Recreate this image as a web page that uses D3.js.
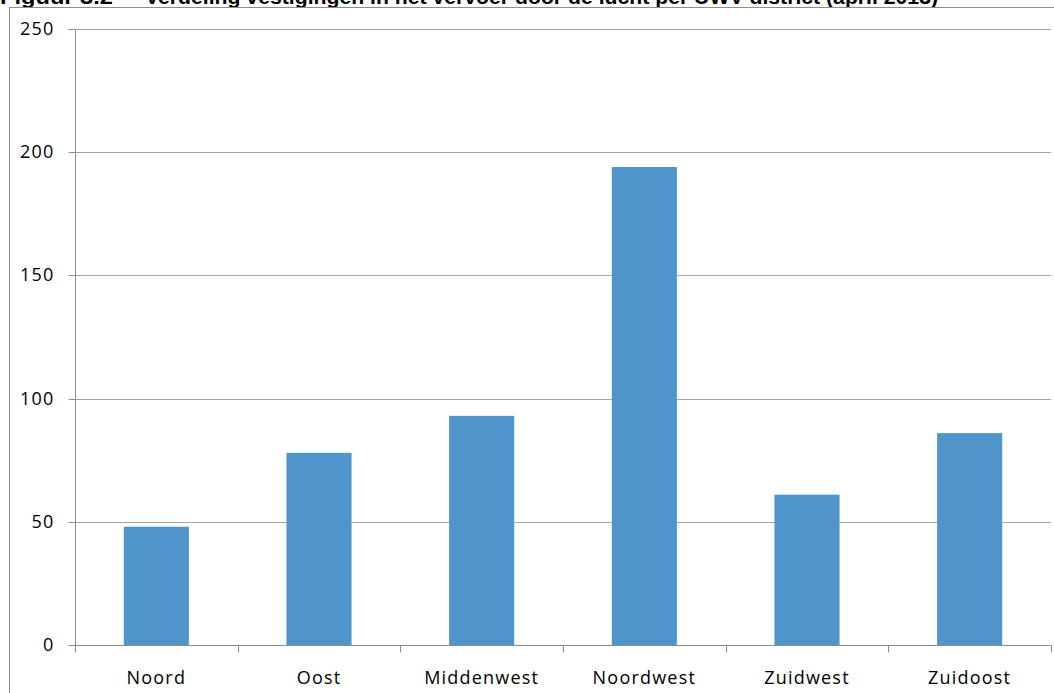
<!DOCTYPE html>
<html>
<head>
<meta charset="utf-8">
<script src="https://cdn.jsdelivr.net/npm/d3@7"></script>
<style>
  html, body { margin: 0; padding: 0; background: #fff; }
  svg { display: block; }
</style>
</head>
<body>
<svg id="chart" width="1054" height="693"></svg>
<script>
// Vestigingen per UWV-district
const districts = ["Noord", "Oost", "Middenwest", "Noordwest", "Zuidwest", "Zuidoost"];
const vestigingen = [48, 78, 93, 194, 61, 86];
const yTicks = [0, 50, 100, 150, 200, 250];
const figureNumber = "Figuur 3.2";
const title = "Verdeling vestigingen in het vervoer door de lucht per UWV-district (april 2013)";

const svg = d3.select("#chart");
const W = 1054, H = 693;
const plot = { left: 75, right: 1051, top: 29, bottom: 645 };
const labelFont = "Open Sans, Liberation Sans, sans-serif";

// Figure caption, running along the top edge of the page
const caption = svg.append("g")
  .attr("font-family", "Liberation Sans, Arial, sans-serif")
  .attr("font-weight", "bold")
  .attr("font-size", 20)
  .attr("fill", "#000");
caption.append("text").attr("x", 0).attr("y", 3.5)
  .attr("textLength", 113).attr("lengthAdjust", "spacingAndGlyphs")
  .text(figureNumber);
caption.append("text").attr("x", 145).attr("y", 3.5)
  .attr("textLength", 793).attr("lengthAdjust", "spacingAndGlyphs")
  .text(title);

// Chart frame
svg.append("rect")
  .attr("x", 9.5).attr("y", 7.5)
  .attr("width", W + 20).attr("height", H + 20)
  .attr("fill", "#fff")
  .attr("stroke", "#8c8c8c").attr("stroke-width", 1);

const x = d3.scaleBand()
  .domain(districts)
  .range([plot.left, plot.right])
  .paddingInner(0.6).paddingOuter(0.3);

const xb = d3.scaleBand()
  .domain(districts)
  .range([plot.left, plot.right]);

const y = d3.scaleLinear()
  .domain([0, 250])
  .range([plot.bottom, plot.top]);

// Horizontal gridlines
svg.append("g")
  .selectAll("line")
  .data(yTicks.filter(d => d > 0))
  .join("line")
  .attr("x1", plot.left).attr("x2", plot.right)
  .attr("y1", d => Math.round(y(d)) + 0.5)
  .attr("y2", d => Math.round(y(d)) + 0.5)
  .attr("stroke", "#a6a6a6").attr("stroke-width", 1);

// Bars
svg.append("g")
  .selectAll("rect")
  .data(districts)
  .join("rect")
  .attr("x", (d) => x(d))
  .attr("width", x.bandwidth())
  .attr("y", (d, i) => y(vestigingen[i]))
  .attr("height", (d, i) => y(0) - y(vestigingen[i]))
  .attr("fill", "#4f94cb");

// Y axis
const yAxis = d3.axisLeft(y)
  .tickValues(yTicks)
  .tickSize(7)
  .tickPadding(14)
  .tickFormat(d3.format("d"));

const gy = svg.append("g")
  .attr("transform", `translate(${plot.left + 0.5},0)`)
  .call(yAxis);
gy.select(".domain").attr("stroke", "#8c8c8c").attr("d", `M-7,${plot.top + 0.5}H0V${plot.bottom + 0.5}`);
gy.selectAll(".tick line").attr("stroke", "#8c8c8c");
gy.selectAll(".tick")
  .attr("transform", d => `translate(0,${Math.round(y(d)) + 0.5})`);
gy.selectAll(".tick text")
  .attr("font-family", labelFont)
  .attr("font-size", 18)
  .attr("letter-spacing", 1.2)
  .attr("fill", "#000");

// X axis with ticks on category boundaries
const gx = svg.append("g")
  .attr("transform", `translate(0,${plot.bottom + 0.5})`);
gx.append("line")
  .attr("x1", plot.left).attr("x2", plot.right)
  .attr("stroke", "#8c8c8c");
gx.selectAll("line.tick")
  .data(districts.concat(["end"]))
  .join("line")
  .attr("class", "tick")
  .attr("x1", (d, i) => Math.round(plot.left + i * xb.bandwidth()) + 0.5)
  .attr("x2", (d, i) => Math.round(plot.left + i * xb.bandwidth()) + 0.5)
  .attr("y1", 0).attr("y2", 7)
  .attr("stroke", "#8c8c8c");
gx.selectAll("text")
  .data(districts)
  .join("text")
  .attr("x", d => xb(d) + xb.bandwidth() / 2)
  .attr("y", 38)
  .attr("text-anchor", "middle")
  .attr("font-family", labelFont)
  .attr("font-size", 18)
  .attr("letter-spacing", 1.2)
  .attr("fill", "#000")
  .text(d => d);
</script>
</body>
</html>
